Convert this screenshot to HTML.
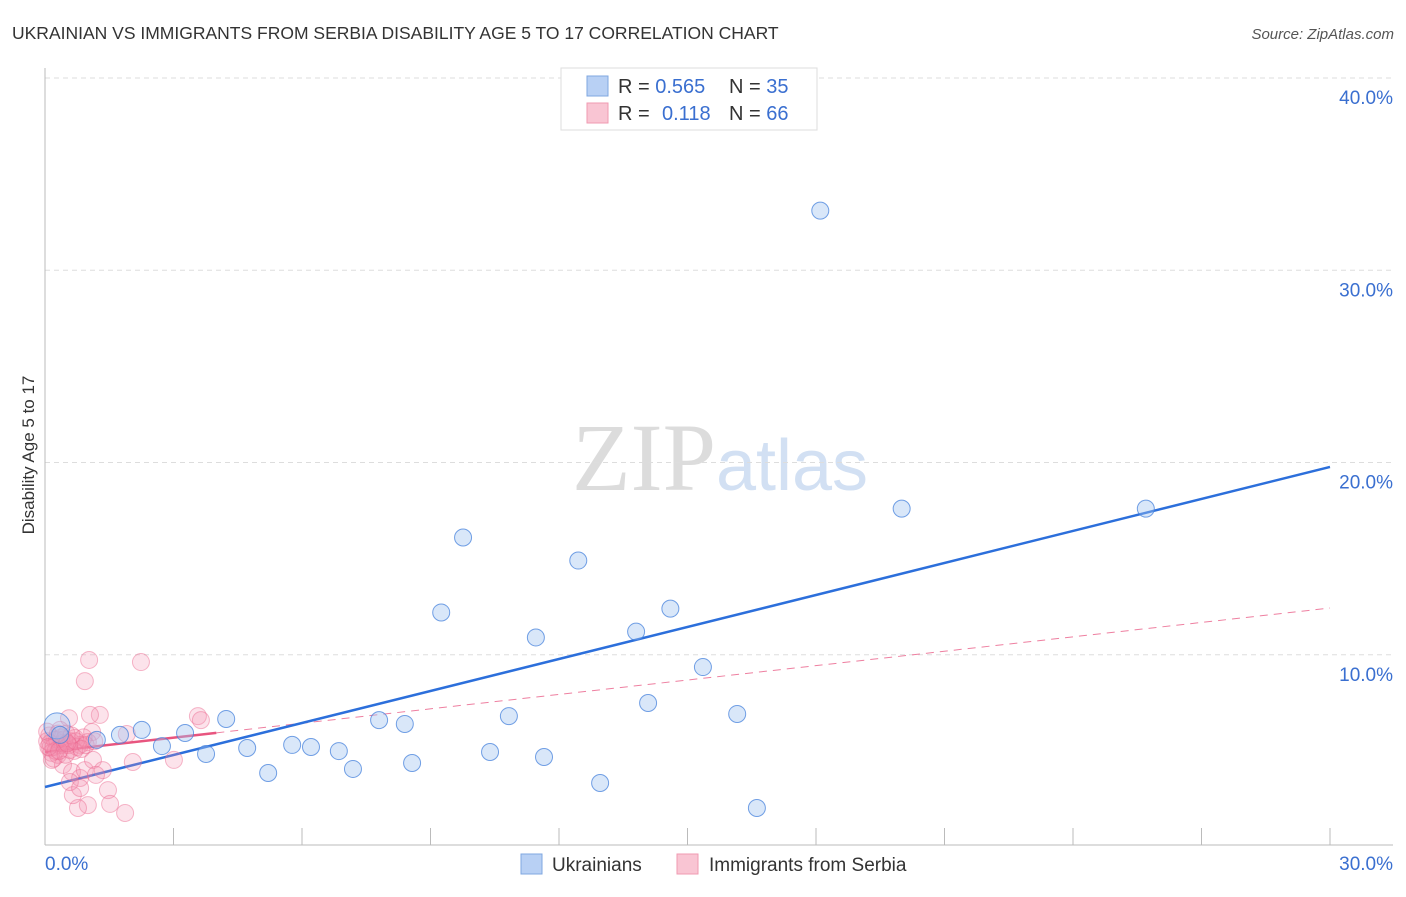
<!DOCTYPE html>
<html><head><meta charset="utf-8"><style>
body{margin:0;background:#fff;font-family:"Liberation Sans",sans-serif}
svg text{font-family:"Liberation Sans",sans-serif}
</style></head><body>
<svg id="chart" width="1406" height="892" viewBox="0 0 1406 892" xmlns="http://www.w3.org/2000/svg">
<text x="12" y="39" font-size="17.5" fill="#333">UKRAINIAN VS IMMIGRANTS FROM SERBIA DISABILITY AGE 5 TO 17 CORRELATION CHART</text>
<text x="1394" y="39" font-size="15" fill="#555" text-anchor="end" font-style="italic">Source: ZipAtlas.com</text>
<text x="34" y="455" font-size="17" fill="#333" text-anchor="middle" transform="rotate(-90 34 455)">Disability Age 5 to 17</text>
<text x="720" y="490" font-size="96" fill="#ddd" text-anchor="middle" font-family="Liberation Serif"><tspan font-family="Liberation Serif" fill="#dcdcdc">ZIP</tspan><tspan font-family="Liberation Sans" font-size="72" fill="#d2e0f3">atlas</tspan></text>
<g id="grid"></g>
<g id="axes"></g>
<g id="lines"></g>
<g id="points"></g>
<g>
<rect x="561" y="68" width="256" height="62" fill="#fff" stroke="#ddd"/>
<rect x="587" y="76" width="21" height="20" fill="#b8d0f4" stroke="#7fa7e0"/>
<rect x="587" y="103" width="21" height="20" fill="#f9c5d3" stroke="#f09ab2"/>
<text x="618" y="93" font-size="20" fill="#333">R = <tspan fill="#3a6fd0">0.565</tspan></text>
<text x="729" y="93" font-size="20" fill="#333">N = <tspan fill="#3a6fd0">35</tspan></text>
<text x="618" y="120" font-size="20" fill="#333">R = </text>
<text x="662" y="120" font-size="20" fill="#3a6fd0">0.118</text>
<text x="729" y="120" font-size="20" fill="#333">N = <tspan fill="#3a6fd0">66</tspan></text>
</g>
<g>
<rect x="521" y="854" width="21" height="20" fill="#b8d0f4" stroke="#7fa7e0"/>
<text x="552" y="871" font-size="19" fill="#333">Ukrainians</text>
<rect x="677" y="854" width="21" height="20" fill="#f9c5d3" stroke="#f09ab2"/>
<text x="709" y="871" font-size="19" fill="#333">Immigrants from Serbia</text>
</g>
</svg>
<script>
const blueX=[18.1,20.0,25.7,9.76,12.45,9.25,14.6,11.46,13.8,15.36,14.08,16.16,10.83,7.8,8.4,4.23,2.26,3.27,1.75,1.21,2.73,3.76,4.72,5.77,6.21,6.86,10.39,11.65,8.57,7.19,5.21,12.96,16.62,0.28,0.35];
const blueY=[33.1,17.6,17.6,16.1,14.9,12.2,12.4,10.9,11.2,9.36,7.49,6.92,6.81,6.6,6.4,6.66,6.09,5.93,5.83,5.57,5.25,4.84,5.15,5.31,5.2,4.99,4.94,4.68,4.37,4.06,3.85,3.33,2.03,6.3,5.83];
const pinkX=[1.03,2.24,0.93,1.28,1.05,3.57,3.64,0.56,1.91,1.1,1.0,0.35,0.23,0.12,0.47,0.58,0.7,0.82,0.3,0.16,0.42,0.63,0.82,0.93,1.12,1.35,1.47,1.52,1.87,1.0,0.77,0.65,0.58,0.82,1.19,2.05,3.01,0.35,0.05,0.1,0.2,0.28,0.4,0.5,0.6,0.75,0.9,0.15,0.25,0.45,0.55,0.68,0.05,0.12,0.38,0.72,0.85,0.95,0.2,0.3,0.48,0.62,1.15,0.08,0.33,0.52];
const pinkY=[9.73,9.62,8.63,6.87,6.87,6.81,6.6,6.7,5.88,5.98,5.46,6.09,5.57,5.15,5.31,5.05,5.67,5.31,4.79,4.53,4.27,3.9,3.59,4.0,4.53,4.0,2.96,2.24,1.77,2.18,2.03,2.7,3.38,3.07,3.75,4.42,4.53,5.3,5.5,5.8,5.2,5.6,5.4,5.9,5.5,5.2,5.7,4.9,5.0,5.6,5.3,5.0,6.0,5.4,5.7,5.5,5.1,5.3,4.6,5.9,4.8,5.8,5.5,5.2,5.0,5.4];
const xTicks=[3,6,9,12,15,18,21,24,27,30];
const yTicks=[10,20,30,40];
const yTickLabels=["10.0%","20.0%","30.0%","40.0%"];
const blueLine=[3.12,19.77];
const pinkLine=[4.94,12.43];
const pinkSolidEnd=4;
const xs=v=>45+v/30*1285, ys=v=>847-v/40*769;
const NS="http://www.w3.org/2000/svg";
function mk(tag,attrs,parent){const e=document.createElementNS(NS,tag);for(const k in attrs)e.setAttribute(k,attrs[k]);document.getElementById(parent).appendChild(e);return e;}
yTicks.forEach((t,i)=>{
 const g=mk('line',{x1:45,x2:1393,y1:ys(t),y2:ys(t),stroke:'#ddd','stroke-dasharray':'5,4'},'grid');
 
 
 const l=mk('text',{x:1393,y:ys(t)+26,'font-size':19,fill:'#3a6fd0','text-anchor':'end'},'axes');
 l.textContent=yTickLabels[i];
 
 
});
const ax=mk('line',{x1:45,x2:1393,y1:845,y2:845,stroke:'#bbb'},'axes');


const ay=mk('line',{x1:45,x2:45,y1:68,y2:845,stroke:'#bbb'},'axes');


xTicks.forEach(t=>{
 const k=mk('line',{x1:xs(t),x2:xs(t),y1:828,y2:845,stroke:'#bbb'},'axes');
 
 
});
const x0=mk('text',{x:45,y:870,'font-size':19,fill:'#3a6fd0'},'axes');x0.textContent='0.0%';


const x1=mk('text',{x:1393,y:870,'font-size':19,fill:'#3a6fd0','text-anchor':'end'},'axes');x1.textContent='30.0%';


pinkX.forEach((x,i)=>{
 const c=mk('circle',{cx:xs(x),cy:ys(pinkY[i]),r:8.5,fill:'rgba(244,143,177,0.25)',stroke:'rgba(236,100,140,0.45)','stroke-width':1},'points');
 
 
});
blueX.forEach((x,i)=>{
 const c=mk('circle',{cx:xs(x),cy:ys(blueY[i]),r:i==33?13:8.5,fill:'rgba(160,196,240,0.4)',stroke:'rgba(70,130,220,0.75)','stroke-width':1},'points');
 
 
});
const pl=v=>pinkLine[0]+(pinkLine[1]-pinkLine[0])*v/30;
const pd=mk('line',{x1:xs(pinkSolidEnd),y1:ys(pl(pinkSolidEnd)),x2:xs(30),y2:ys(pinkLine[1]),stroke:'#ee7fa0','stroke-width':1,'stroke-dasharray':'8,6'},'lines');


const ps=mk('line',{x1:xs(0),y1:ys(pinkLine[0]),x2:xs(pinkSolidEnd),y2:ys(pl(pinkSolidEnd)),stroke:'#e8557f','stroke-width':2.5},'lines');


const bl=mk('line',{x1:xs(0),y1:ys(blueLine[0]),x2:xs(30),y2:ys(blueLine[1]),stroke:'#2c6fdb','stroke-width':2.5},'lines');


</script>
</body></html>
